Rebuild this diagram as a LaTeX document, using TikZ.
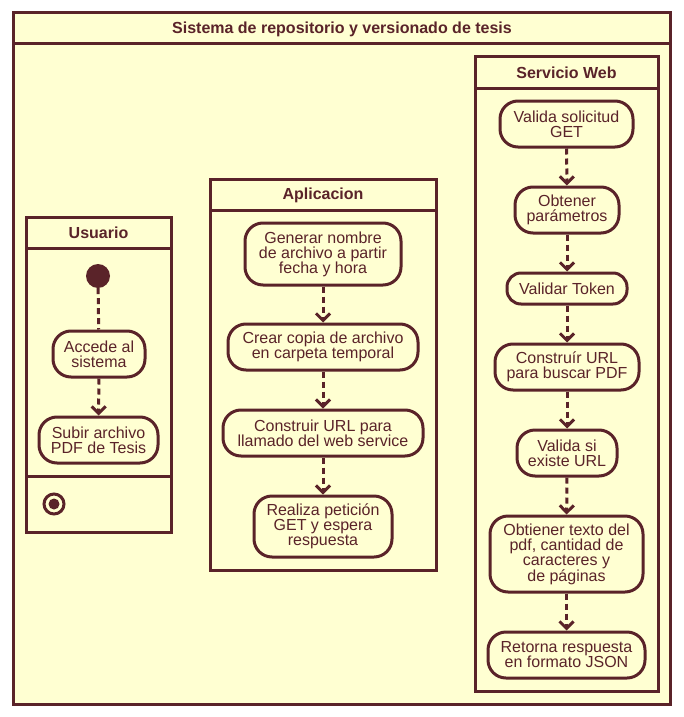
\documentclass[tikz,border=0pt]{standalone}
\usepackage{fontspec}
\setmainfont{Liberation Sans}
\usetikzlibrary{arrows.meta}
\definecolor{umlline}{HTML}{5A2329}
\definecolor{umlfill}{HTML}{FFFFD2}
\tikzset{
  lane/.style={draw=umlline, line width=3pt, fill=umlfill},
  lanetitle/.style={font=\fontsize{16}{18}\selectfont\bfseries, text=umlline},
  act/.style={draw=umlline, line width=3pt, fill=umlfill, rounded corners=18pt, text=umlline,
    align=center, font=\fontsize{16}{15}\selectfont, inner sep=0pt},
  flow/.style={draw=umlline, line width=3pt, dash pattern=on 6pt off 4pt,
    -{Straight Barb[length=7pt,width=14pt,line width=3pt]}},
}
\begin{document}
\begin{tikzpicture}[x=1pt,y=-1pt]
    \useasboundingbox (0,0) rectangle (683,717);
    % marco general
    \draw[lane] (13,13) rectangle (670,704);
    \draw[umlline, line width=3pt] (13,44) -- (670,44);
    \node[lanetitle] (titulo) at (342,29) {Sistema de repositorio y versionado de tesis};
    % carriles
    \draw[lane] (26,217) rectangle (171,532);
    \draw[umlline, line width=3pt] (26,248) -- (171,248);
    \draw[umlline, line width=3pt] (26,476) -- (171,476);
    \node[lanetitle] (usuario) at (98.5,233) {Usuario};
    \draw[lane] (210,179) rectangle (436,570);
    \draw[umlline, line width=3pt] (210,210) -- (436,210);
    \node[lanetitle] (aplicacion) at (323,195) {Aplicacion};
    \draw[lane] (475,57) rectangle (658,691);
    \draw[umlline, line width=3pt] (475,88) -- (658,88);
    \node[lanetitle] (servicio) at (566.5,73) {Servicio Web};
    % usuario
    \node[circle, fill=umlline, minimum size=24pt, inner sep=0pt] (inicio) at (98,276) {};
    \node[act, minimum width=92pt, minimum height=46pt] (accede) at (99,354) {Accede al\\sistema};
    \node[act, minimum width=119pt, minimum height=46pt] (subir) at (98.5,440) {Subir archivo\\PDF de Tesis};
    \node[circle, draw=umlline, line width=3pt, fill=umlfill, minimum size=20pt, inner sep=0pt] (fin) at (54,504) {};
    \fill[umlline] (fin) circle (5.5pt);
    % aplicacion
    \node[act, minimum width=156pt, minimum height=62pt] (generar) at (323,254) {Generar nombre\\de archivo a partir\\fecha y hora};
    \node[act, minimum width=190pt, minimum height=46pt] (copia) at (323,347) {Crear copia de archivo\\en carpeta temporal};
    \node[act, minimum width=200pt, minimum height=46pt] (construir) at (323,433) {Construir URL para\\llamado del web service};
    \node[act, minimum width=138pt, minimum height=61pt] (peticion) at (323,526.5) {Realiza petici\'on\\GET y espera\\respuesta};
    % servicio web
    \node[act, minimum width=133pt, minimum height=46pt] (valida) at (566.5,124) {Valida solicitud\\GET};
    \node[act, minimum width=104pt, minimum height=46pt] (obtener) at (567,210) {Obtener\\par\'ametros};
    \node[act, rounded corners=14pt, minimum width=120pt, minimum height=31pt] (token) at (567,288.5) {Validar Token};
    \node[act, minimum width=144pt, minimum height=46pt] (url) at (567,367) {Constru\'ir URL\\para buscar PDF};
    \node[act, minimum width=100pt, minimum height=46pt] (existe) at (567,453) {Valida si\\existe URL};
    \node[act, minimum width=153pt, minimum height=76pt] (texto) at (566.5,554) {Obtiener texto del\\pdf, cantidad de\\caracteres y\\de p\'aginas};
    \node[act, minimum width=157pt, minimum height=46pt] (retorna) at (566.5,655) {Retorna respuesta\\en formato JSON};
    % flujos
    \draw[flow, -] (inicio) -- (accede);
    \draw[flow] (accede) -- (subir);
    \draw[flow] (generar) -- (copia);
    \draw[flow] (copia) -- (construir);
    \draw[flow] (construir) -- (peticion);
    \draw[flow] (valida) -- (obtener);
    \draw[flow] (obtener) -- (token);
    \draw[flow] (token) -- (url);
    \draw[flow] (url) -- (existe);
    \draw[flow] (existe) -- (texto);
    \draw[flow] (texto) -- (retorna);
\end{tikzpicture}
\end{document}
